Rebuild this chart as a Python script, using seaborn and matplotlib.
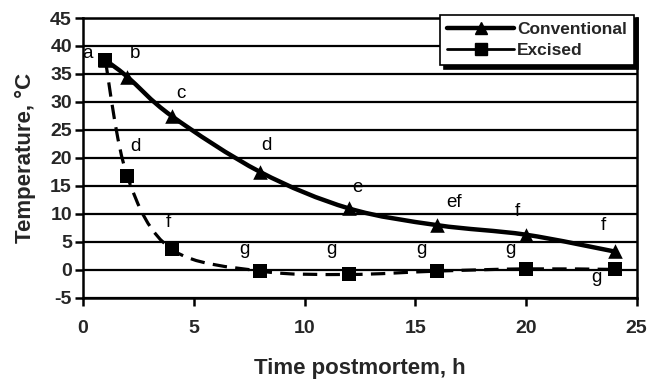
import numpy as np
import pandas as pd
import seaborn as sns
import matplotlib
matplotlib.use("Agg")
import matplotlib.pyplot as plt
from matplotlib.path import Path
from matplotlib.patches import PathPatch
from matplotlib.lines import Line2D

# ---- data ----
time_h = [1, 2, 4, 8, 12, 16, 20, 24]
conventional = [37.5, 34.5, 27.5, 17.5, 11.0, 8.0, 6.3, 3.3]
excised = [37.5, 16.7, 3.7, -0.2, -0.8, -0.2, 0.2, 0.1]
series_names = ["Conventional", "Excised"]

# annotation letters (text, x, y)
letters_text = ["a", "b", "c", "d", "d", "f", "g", "e", "g", "ef", "g", "f", "g", "f", "g"]
letters_x = [0.2, 2.35, 4.4, 8.3, 2.35, 3.85, 7.3, 12.4, 11.2, 16.75, 15.3, 19.6, 19.3, 23.5, 23.2]
letters_y = [38.6, 38.6, 31.6, 22.3, 22.0, 8.4, 3.6, 14.8, 3.6, 12.1, 3.6, 10.4, 3.6, 7.9, -1.4]

x_ticks = [0, 5, 10, 15, 20, 25]
y_ticks = [-5, 0, 5, 10, 15, 20, 25, 30, 35, 40, 45]

df = pd.DataFrame({
    "time": time_h * 2,
    "temp": conventional + excised,
    "series": [series_names[0]] * len(time_h) + [series_names[1]] * len(time_h),
})

sns.set_theme(style="white")
plt.rcParams["font.family"] = ["Liberation Sans", "DejaVu Sans"]

fig = plt.figure(figsize=(6.49, 3.83), dpi=100)
ax = fig.add_axes([0.128, 0.222, 0.853, 0.731])


def smooth_path(xs, ys):
    """Excel-like smoothed line as cubic Bezier through the data points."""
    pts = np.column_stack([xs, ys]).astype(float)
    n = len(pts)
    verts = [pts[0]]
    codes = [Path.MOVETO]
    for i in range(n - 1):
        p0 = pts[i - 1] if i > 0 else pts[i]
        p1 = pts[i]
        p2 = pts[i + 1]
        p3 = pts[i + 2] if i + 2 < n else pts[i + 1]
        c1 = p1 + (p2 - p0) / 6.0
        c2 = p2 - (p3 - p1) / 6.0
        verts += [c1, c2, p2]
        codes += [Path.CURVE4] * 3
    return Path(verts, codes)


ax.add_patch(PathPatch(smooth_path(time_h, conventional), fill=False,
                       edgecolor="black", lw=3.2, zorder=3, capstyle="butt"))
ax.add_patch(PathPatch(smooth_path(time_h, excised), fill=False,
                       edgecolor="black", lw=2.3, linestyle=(0, (4.5, 2.6)), zorder=3))

sns.scatterplot(data=df[df.series == series_names[0]], x="time", y="temp",
                marker="^", s=110, color="black", edgecolor="black", linewidth=0,
                ax=ax, zorder=4, legend=False)
sns.scatterplot(data=df[df.series == series_names[1]], x="time", y="temp",
                marker="s", s=95, color="black", edgecolor="black", linewidth=0,
                ax=ax, zorder=5, legend=False)

for t, x, y in zip(letters_text, letters_x, letters_y):
    ax.text(x, y, t, ha="center", va="center", fontsize=13.5, color="black", zorder=6)

ax.set_xlim(0, 25)
ax.set_ylim(-5, 45)
ax.set_xticks(x_ticks)
ax.set_yticks(y_ticks)
ax.set_xticklabels([str(v) for v in x_ticks], fontsize=14, fontweight="bold")
ax.set_yticklabels([str(v) for v in y_ticks], fontsize=14, fontweight="bold")
ax.tick_params(axis="both", direction="out", length=6, width=1.8, color="black",
               bottom=True, left=True)
ax.tick_params(axis="y", pad=2)
ax.tick_params(axis="x", pad=10)

ax.yaxis.grid(True, color="black", lw=1.6)
ax.xaxis.grid(False)
ax.set_axisbelow(True)
for side in ["left", "right", "bottom", "top"]:
    ax.spines[side].set_visible(True)
    ax.spines[side].set_color("black")
    ax.spines[side].set_linewidth(1.8)

ax.set_xlabel("Time postmortem, h", fontsize=16, fontweight="bold", labelpad=15)
ax.set_ylabel("Temperature, °C", fontsize=16, fontweight="bold", labelpad=10)

handles = [
    Line2D([], [], color="black", lw=3.2, marker="^", markersize=9),
    Line2D([], [], color="black", lw=2.0, marker="s", markersize=8),
]
leg = ax.legend(handles, series_names, loc="upper right",
                bbox_to_anchor=(0.995, 1.01), frameon=True, fancybox=False,
                shadow={"color": "black", "alpha": 1.0, "ox": 3, "oy": -3},
                prop={"weight": "bold", "size": 12.5}, handlelength=3.9,
                handletextpad=0.15, borderpad=0.4, labelspacing=0.3,
                borderaxespad=0)
leg.get_frame().set_edgecolor("black")
leg.get_frame().set_linewidth(1.2)
leg.get_frame().set_facecolor("white")
leg.set_zorder(10)

fig.savefig("out.png", dpi=100)
